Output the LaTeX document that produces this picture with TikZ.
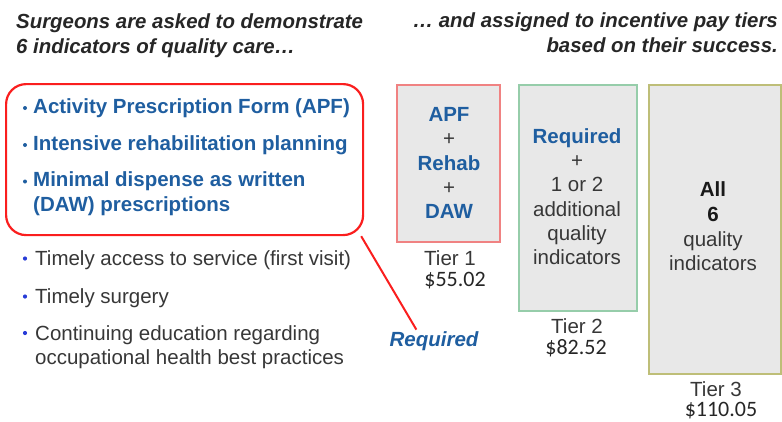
\documentclass[tikz,border=0pt]{standalone}
\usepackage{fontspec}
\setmainfont{Liberation Sans}
\newfontfamily\pricefont{Carlito}
\usetikzlibrary{calc}
\definecolor{hdr}{RGB}{38,38,38}
\definecolor{txt}{RGB}{55,55,55}
\definecolor{blu}{RGB}{31,94,160}
\definecolor{bul}{RGB}{40,60,215}
\definecolor{redline}{RGB}{250,30,30}
\definecolor{tone}{RGB}{240,130,130}
\definecolor{ttwo}{RGB}{150,205,170}
\definecolor{tthree}{RGB}{190,190,120}
\definecolor{boxfill}{RGB}{232,232,232}
\begin{document}
\begin{tikzpicture}[x=1pt,y=-1pt,
  every node/.style={inner sep=0pt},
  hdrtext/.style={font=\fontsize{20.4}{24}\selectfont\bfseries\itshape, text=hdr},
  bodytext/.style={font=\fontsize{20.5}{24}\selectfont, text=txt, anchor=base west},
  blueitem/.style={font=\fontsize{20.5}{24}\selectfont\bfseries, text=blu, anchor=base west},
  intier/.style={font=\fontsize{20.5}{24}\selectfont, text=txt, anchor=base},
  intierblue/.style={font=\fontsize{20.5}{24}\selectfont\bfseries, text=blu, anchor=base},
  intierbold/.style={font=\fontsize{20.5}{24}\selectfont\bfseries, text=black!90, anchor=base},
  price/.style={font=\pricefont\fontsize{22}{26}\selectfont, text=black!85, anchor=base},
  tierbox/.style={draw, fill=boxfill, line width=1.6pt, anchor=north west},
  callout/.style={draw=redline, line width=2.2pt, rounded corners=20pt, anchor=north west},
  tail/.style={draw=redline, line width=2pt}
]
\useasboundingbox (0,0) rectangle (782,421);

% headers
\node[hdrtext, anchor=base west] (hl1) at (16,28) {Surgeons are asked to demonstrate};
\node[hdrtext, anchor=base west] (hl2) at (16,53) {6 indicators of quality care…};
\node[hdrtext, anchor=base east] (hr1) at (778,27) {… and assigned to incentive pay tiers};
\node[hdrtext, anchor=base east] (hr2) at (778,52) {based on their success.};

% required indicators callout
\node[callout, minimum width=357, minimum height=151] (redbox) at (5,83) {};
\fill[blu] (25,108) circle (2);
\fill[blu] (25,145) circle (2);
\fill[blu] (25,181.5) circle (2);
\node[blueitem] (r1) at (33,113.3) {Activity Prescription Form (APF)};
\node[blueitem] (r2) at (33,150) {Intensive rehabilitation planning};
\node[blueitem] (r3) at (33,186.7) {Minimal dispense as written};
\node[blueitem] (r4) at (33,211.7) {(DAW) prescriptions};

% other indicators
\fill[bul] (25,258.5) circle (2.1);
\fill[bul] (25,296.5) circle (2.1);
\fill[bul] (25,333) circle (2.1);
\node[bodytext] (o1) at (35,265) {Timely access to service (first visit)};
\node[bodytext] (o2) at (35,303) {Timely surgery};
\node[bodytext] (o3) at (35,340) {Continuing education regarding};
\node[bodytext] (o4) at (35,364) {occupational health best practices};

% Required label and tail
\node[font=\fontsize{20.5}{24}\selectfont\bfseries\itshape, text=blu, anchor=base] (req) at (434,346.7) {Required};
\coordinate (tailstart) at ($(redbox.south east)+(-3,0)$);
\draw[tail] (tailstart) -- ($(req.north west)+(27,-2)$);

% tier 1
\node[tierbox, draw=tone, minimum width=103, minimum height=157] (tier1) at (396,84) {};
\node[intierblue] (a1) at (449,121.7) {APF};
\node[intier] (a2) at (449,145.9) {+};
\node[intierblue] (a3) at (449,170.1) {Rehab};
\node[intier] (a4) at (449,194.3) {+};
\node[intierblue] (a5) at (449,218.5) {DAW};
\node[intier] (t1a) at (450,265) {Tier 1};
\node[price] (t1b) at (455,286.5) {\$55.02};

% tier 2
\node[tierbox, draw=ttwo, minimum width=118, minimum height=226] (tier2) at (518,84) {};
\node[intierblue] (b1) at (577,143.3) {Required};
\node[intier] (b2) at (577,167.6) {+};
\node[intier] (b3) at (577,191.9) {1 or 2};
\node[intier] (b4) at (577,216.2) {additional};
\node[intier] (b5) at (577,240.5) {quality};
\node[intier] (b6) at (577,264.8) {indicators};
\node[intier] (t2a) at (577,333) {Tier 2};
\node[price] (t2b) at (576,354) {\$82.52};

% tier 3
\node[tierbox, draw=tthree, minimum width=132, minimum height=289] (tier3) at (648,84) {};
\node[intierbold] (c1) at (713,196.5) {All};
\node[intierbold] (c2) at (713,221.3) {6};
\node[intier] (c3) at (713,246.1) {quality};
\node[intier] (c4) at (713,270.9) {indicators};
\node[intier] (t3a) at (716,396) {Tier 3};
\node[price] (t3b) at (721,416.5) {\$110.05};
\end{tikzpicture}
\end{document}
